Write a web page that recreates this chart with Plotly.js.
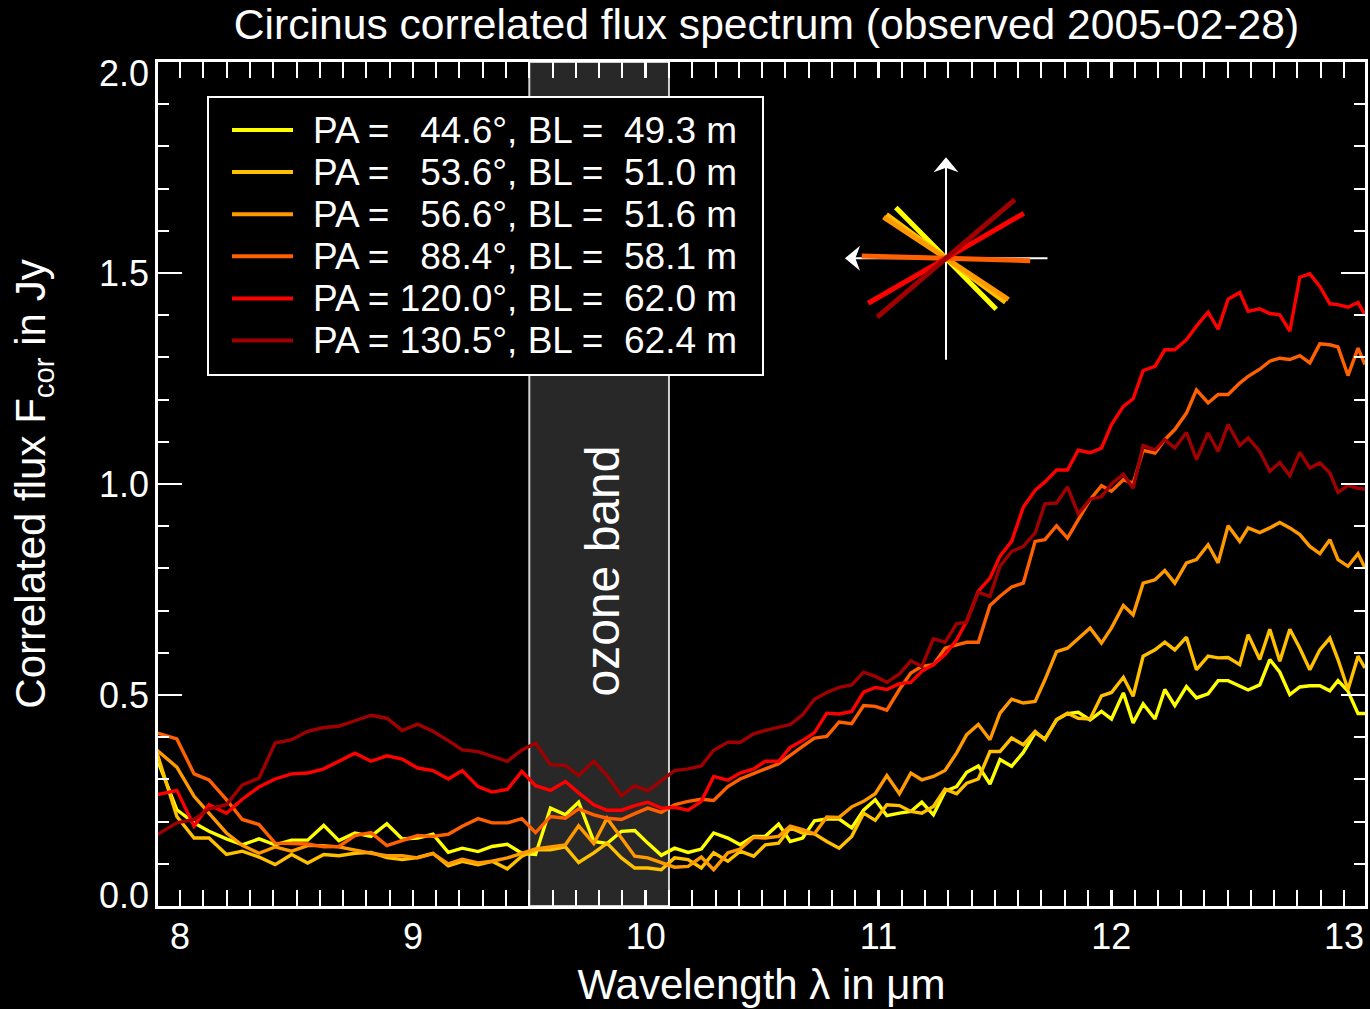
<!DOCTYPE html>
<html>
<head>
<meta charset="utf-8">
<script src="https://cdn.plot.ly/plotly-3.0.1.min.js"></script>
<style>
html, body { margin: 0; padding: 0; background: #000; }
#chart { width: 1370px; height: 1009px; }
</style>
</head>
<body>
<div id="chart"></div>
<script>
// ---- data ----
const wavelength = [7.901, 7.986, 8.060, 8.124, 8.199, 8.267, 8.339, 8.408, 8.479, 8.548,
  8.617, 8.682, 8.751, 8.820, 8.888, 8.954, 9.020, 9.086, 9.152, 9.212,
  9.280, 9.340, 9.406, 9.468, 9.527, 9.591, 9.655, 9.712, 9.777, 9.834,
  9.896, 9.953, 10.009, 10.067, 10.124, 10.182, 10.239, 10.292, 10.353, 10.406,
  10.464, 10.514, 10.571, 10.621, 10.674, 10.725, 10.778, 10.831, 10.885, 10.936,
  10.986, 11.036, 11.090, 11.139, 11.186, 11.236, 11.286, 11.336, 11.379, 11.429,
  11.479, 11.522, 11.572, 11.622, 11.673, 11.715, 11.765, 11.812, 11.858, 11.909,
  11.958, 12.001, 12.052, 12.094, 12.137, 12.188, 12.230, 12.273, 12.323, 12.366,
  12.416, 12.459, 12.502, 12.552, 12.588, 12.638, 12.681, 12.724, 12.767, 12.810,
  12.853, 12.896, 12.939, 12.974, 13.017, 13.060, 13.090];

const fluxPA044 = [0.348, 0.228, 0.197, 0.177, 0.159, 0.145, 0.159, 0.145, 0.156, 0.156,
  0.191, 0.155, 0.173, 0.165, 0.195, 0.159, 0.161, 0.170, 0.127, 0.137,
  0.129, 0.141, 0.146, 0.125, 0.122, 0.232, 0.216,
  0.246, 0.153, 0.148, 0.177, 0.179, 0.149, 0.120, 0.137, 0.127, 0.135,
  0.173, 0.161, 0.145, 0.165, 0.165, 0.194, 0.153, 0.161, 0.202, 0.206,
  0.206, 0.185, 0.227, 0.252, 0.214, 0.220,
  0.224, 0.246, 0.216, 0.272, 0.283, 0.317, 0.332, 0.289, 0.347, 0.331,
  0.364, 0.411, 0.396, 0.441, 0.456, 0.459, 0.441, 0.461, 0.443, 0.505,
  0.434, 0.479, 0.443, 0.513, 0.475, 0.520, 0.493, 0.503, 0.534, 0.534,
  0.520, 0.512, 0.524, 0.584, 0.554, 0.501, 0.519, 0.522, 0.522, 0.510,
  0.534, 0.509, 0.456, 0.456];

const fluxPA054 = [0.362, 0.212, 0.161, 0.161, 0.122, 0.130, 0.116, 0.098, 0.122, 0.102,
  0.122, 0.119, 0.125, 0.127, 0.115, 0.110, 0.115, 0.125, 0.095, 0.106,
  0.098, 0.106, 0.088, 0.118, 0.133, 0.133, 0.140,
  0.103, 0.126, 0.149, 0.114, 0.090, 0.090, 0.086, 0.114, 0.110, 0.090,
  0.126, 0.106, 0.130, 0.118, 0.145, 0.149, 0.185, 0.173, 0.171, 0.153,
  0.137, 0.165, 0.220, 0.203, 0.240, 0.238,
  0.224, 0.220, 0.236, 0.277, 0.266, 0.291, 0.301, 0.366, 0.366, 0.398,
  0.382, 0.414, 0.394, 0.442, 0.457, 0.445, 0.443, 0.498, 0.506, 0.542,
  0.497, 0.592, 0.607, 0.625, 0.607, 0.637, 0.560, 0.592, 0.588, 0.589,
  0.572, 0.643, 0.584, 0.656, 0.580, 0.656, 0.611, 0.560, 0.607, 0.635,
  0.584, 0.513, 0.592, 0.564];

const fluxPA057 = [0.369, 0.329, 0.260, 0.219, 0.173, 0.144, 0.125, 0.140, 0.130, 0.143,
  0.143, 0.140, 0.132, 0.125, 0.119, 0.119, 0.114, 0.124, 0.100, 0.111,
  0.102, 0.106, 0.114, 0.125, 0.135, 0.140, 0.145,
  0.190, 0.148, 0.208, 0.160, 0.118, 0.114, 0.102, 0.092, 0.094, 0.116,
  0.086, 0.126, 0.135, 0.163, 0.161, 0.165, 0.189, 0.181, 0.171, 0.211,
  0.210, 0.235, 0.248, 0.266, 0.309, 0.266,
  0.315, 0.299, 0.307, 0.321, 0.363, 0.406, 0.430, 0.394, 0.457, 0.490,
  0.481, 0.485, 0.536, 0.603, 0.611, 0.635, 0.659, 0.623, 0.659, 0.712,
  0.690, 0.765, 0.773, 0.795, 0.765, 0.813, 0.821, 0.856, 0.813, 0.901,
  0.864, 0.896, 0.885, 0.896, 0.909, 0.896, 0.880, 0.852, 0.835, 0.868,
  0.821, 0.805, 0.835, 0.801];

const fluxPA088 = [0.410, 0.396, 0.313, 0.299, 0.252, 0.205, 0.193, 0.149, 0.148, 0.147,
  0.140, 0.141, 0.167, 0.174, 0.143, 0.155, 0.167, 0.165, 0.170, 0.189,
  0.207, 0.197, 0.197, 0.207, 0.174, 0.212, 0.208,
  0.230, 0.216, 0.208, 0.205, 0.219, 0.232, 0.222, 0.240, 0.248, 0.253,
  0.250, 0.283, 0.301, 0.315, 0.325, 0.337, 0.358, 0.378, 0.398, 0.402,
  0.436, 0.432, 0.475, 0.473, 0.464, 0.513, 0.552,
  0.568, 0.572, 0.611, 0.619, 0.625, 0.625, 0.712, 0.734, 0.756,
  0.765, 0.864, 0.868, 0.901, 0.872, 0.917, 0.963, 0.996, 0.983, 1.010, 1.002,
  1.080, 1.073, 1.105, 1.129, 1.168, 1.223, 1.192, 1.212, 1.212, 1.239,
  1.255, 1.272, 1.291, 1.298, 1.295, 1.304, 1.287, 1.332, 1.330, 1.325,
  1.257, 1.322, 1.283];

const fluxPA120 = [0.264, 0.274, 0.189, 0.240, 0.220, 0.253, 0.282, 0.301, 0.313, 0.315,
  0.325, 0.343, 0.362, 0.343, 0.356, 0.348, 0.327, 0.321, 0.301, 0.321,
  0.283, 0.270, 0.276, 0.319, 0.285, 0.274, 0.295,
  0.268, 0.240, 0.227, 0.227, 0.238, 0.246, 0.232, 0.234, 0.227, 0.248,
  0.307, 0.298, 0.315, 0.325, 0.343, 0.343, 0.376, 0.392, 0.411, 0.457,
  0.455, 0.461, 0.507, 0.518, 0.513, 0.527, 0.530,
  0.556, 0.572, 0.596, 0.631, 0.675, 0.746, 0.777, 0.829, 0.864,
  0.945, 0.985, 1.005, 1.033, 1.033, 1.080, 1.074, 1.085, 1.141, 1.184,
  1.202, 1.269, 1.279, 1.318, 1.318, 1.342, 1.374, 1.407, 1.367, 1.438,
  1.454, 1.409, 1.415, 1.404, 1.401, 1.362, 1.490, 1.498, 1.468, 1.427,
  1.425, 1.419, 1.430, 1.401];

const fluxPA131 = [0.169, 0.197, 0.205, 0.230, 0.240, 0.287, 0.303, 0.386, 0.394, 0.414,
  0.423, 0.426, 0.439, 0.452, 0.445, 0.416, 0.431, 0.414, 0.392, 0.370,
  0.366, 0.356, 0.343, 0.370, 0.386, 0.335, 0.333,
  0.309, 0.343, 0.309, 0.261, 0.285, 0.273, 0.297, 0.321, 0.325, 0.332,
  0.369, 0.388, 0.388, 0.408, 0.416, 0.424, 0.430, 0.453, 0.490, 0.506,
  0.518, 0.524, 0.554, 0.544, 0.530, 0.550, 0.581,
  0.568, 0.633, 0.625, 0.669, 0.672, 0.743, 0.734, 0.805, 0.840,
  0.852, 0.884, 0.953, 0.955, 0.993, 0.929, 0.964, 0.970, 1.000, 1.023, 0.990,
  1.091, 1.081, 1.105, 1.085, 1.122, 1.058, 1.121, 1.077, 1.141, 1.091,
  1.109, 1.077, 1.030, 1.051, 1.020, 1.075, 1.038, 1.050, 1.026, 0.980,
  0.996, 0.990, 0.988];

const positionAngles = [44.6, 53.6, 56.6, 88.4, 120.0, 130.5];   // degrees
const baselineLengths = [49.3, 51.0, 51.6, 58.1, 62.0, 62.4];   // metres
const lineColors = ['#ffff00', '#ffc000', '#ff9900', '#ff6000', '#ff0000', '#a00000'];
const ozoneBand = [9.5, 10.1];
const yTickValues = [0.0, 0.5, 1.0, 1.5, 2.0];
const yTickText = ['0.0', '0.5', '1.0', '1.5', '2.0'];

// ---- build figure ----
const FONT = '"Liberation Sans", Arial, Helvetica, sans-serif';
const WHITE = '#ffffff';
const seriesFlux = [fluxPA044, fluxPA054, fluxPA057, fluxPA088, fluxPA120, fluxPA131];

const traces = [];
seriesFlux.forEach((flux, i) => {
  traces.push({
    type: 'scatter', mode: 'lines', x: wavelength, y: flux,
    line: { color: lineColors[i], width: 3.4 },
    xaxis: 'x', yaxis: 'y', showlegend: false, hoverinfo: 'skip'
  });
});
// empty trace so that the label-only overlay axis (y2) is created
traces.push({ type: 'scatter', mode: 'lines', x: [], y: [], xaxis: 'x', yaxis: 'y2',
  showlegend: false, hoverinfo: 'skip' });

// inset: projected baselines (East to the left, North up)
positionAngles.forEach((pa, i) => {
  const r = pa * Math.PI / 180;
  const east = baselineLengths[i] * Math.sin(r);
  const north = baselineLengths[i] * Math.cos(r);
  traces.push({
    type: 'scatter', mode: 'lines', x: [-east, east], y: [-north, north],
    line: { color: lineColors[i], width: 5 },
    xaxis: 'x3', yaxis: 'y3', showlegend: false, hoverinfo: 'skip'
  });
});

// ---- geometry helpers (pixels of the 1370x1009 page) ----
const PL = 158, PR = 1365, PT = 62, PB = 906;
const px2paperX = p => (p - PL) / (PR - PL);
const px2paperY = p => (PB - p) / (PB - PT);

const shapes = [];
const annotations = [];

// ozone band
shapes.push({
  type: 'rect', xref: 'x', yref: 'y', x0: ozoneBand[0], x1: ozoneBand[1], y0: 0, y1: 2,
  fillcolor: '#282828', line: { color: '#cfcfcf', width: 2 }, layer: 'below'
});
annotations.push({
  xref: 'x', yref: 'y', x: (ozoneBand[0] + ozoneBand[1]) / 2, y: 0.793, xshift: 3,
  text: 'ozone band', textangle: -90, showarrow: false,
  font: { family: FONT, size: 48, color: WHITE }
});

// legend (box, sample lines, labels built from PA / BL arrays)
shapes.push({
  type: 'rect', xref: 'paper', yref: 'paper',
  x0: px2paperX(208), x1: px2paperX(763), y0: px2paperY(375), y1: px2paperY(97),
  fillcolor: '#000000', line: { color: WHITE, width: 2 }, layer: 'above'
});
const NBSP = '\u00A0';
positionAngles.forEach((pa, i) => {
  const yPx = 130 + i * 42.1;
  shapes.push({
    type: 'line', xref: 'paper', yref: 'paper',
    x0: px2paperX(232), x1: px2paperX(293), y0: px2paperY(yPx), y1: px2paperY(yPx),
    line: { color: lineColors[i], width: 4 }, layer: 'above'
  });
  const paStr = pa.toFixed(1);
  const blStr = baselineLengths[i].toFixed(1);
  const pad = NBSP.repeat(1 + 2 * (5 - paStr.length));
  annotations.push({
    xref: 'paper', yref: 'paper', x: px2paperX(311), y: px2paperY(yPx),
    xanchor: 'left', yanchor: 'middle', showarrow: false,
    text: 'PA =' + pad + paStr + '°, BL =' + NBSP + NBSP + blStr + ' m',
    font: { family: FONT, size: 37, color: WHITE }
  });
});

// inset compass (North up, East left), in metres of the inset axes
const AX_LEN = 70.0;
shapes.push({ type: 'line', xref: 'x3', yref: 'y3', x0: 0, x1: 0, y0: -AX_LEN, y1: AX_LEN - 2,
  line: { color: WHITE, width: 2 }, layer: 'below' });
shapes.push({ type: 'line', xref: 'x3', yref: 'y3', x0: -AX_LEN, x1: AX_LEN - 2, y0: 0, y1: 0,
  line: { color: WHITE, width: 2 }, layer: 'below' });
const tip = AX_LEN - 0.3, wing = AX_LEN - 10.7, notch = AX_LEN - 7.5, half = 8.6;
shapes.push({ type: 'path', xref: 'x3', yref: 'y3',
  path: `M 0,${tip} L ${-half},${wing} L 0,${notch} L ${half},${wing} Z`,
  fillcolor: WHITE, line: { width: 0 }, layer: 'below' });
shapes.push({ type: 'path', xref: 'x3', yref: 'y3',
  path: `M ${tip},0 L ${wing},${half} L ${notch},0 L ${wing},${-half} Z`,
  fillcolor: WHITE, line: { width: 0 }, layer: 'below' });

// inset domain: centre at (946, 258) px, 1.45 px per metre
const INSET_R = 74.5, SCALE = 1.45, CX = 946, CY = 258.3;
const halfPx = INSET_R * SCALE;

const tickFont = { family: FONT, size: 36, color: WHITE };

const layout = {
  width: 1370, height: 1009,
  paper_bgcolor: '#000000', plot_bgcolor: '#000000',
  margin: { l: PL, r: 1370 - PR, t: PT, b: 1009 - PB, pad: 0 },
  font: { family: FONT, color: WHITE },
  showlegend: false,
  title: {
    text: 'Circinus correlated flux spectrum (observed 2005-02-28)',
    font: { family: FONT, size: 42.6, color: WHITE },
    x: 0.5595, xanchor: 'center', xref: 'container',
    y: 1 - 24 / 1009, yanchor: 'middle', yref: 'container'
  },
  xaxis: {
    range: [7.905, 13.09], domain: [0, 1], anchor: 'y',
    showgrid: false, zeroline: false,
    showline: true, linecolor: WHITE, linewidth: 3, mirror: 'allticks',
    ticks: 'inside', ticklen: 16, tickwidth: 2.5, tickcolor: WHITE,
    tick0: 8, dtick: 1,
    minor: { ticks: 'inside', dtick: 0.1, ticklen: 8, tickwidth: 2, tickcolor: WHITE, showgrid: false },
    tickfont: tickFont, ticklabelstandoff: -3,
    title: { text: 'Wavelength λ in μm', font: { family: FONT, size: 42, color: WHITE }, standoff: 14 }
  },
  yaxis: {
    range: [0, 2], domain: [0, 1], anchor: 'x',
    showgrid: false, zeroline: false,
    showline: true, linecolor: WHITE, linewidth: 3, mirror: 'allticks',
    ticks: 'inside', ticklen: 24, tickwidth: 2.5, tickcolor: WHITE,
    tick0: 0, dtick: 0.5,
    minor: { ticks: 'inside', dtick: 0.1, ticklen: 11, tickwidth: 2, tickcolor: WHITE, showgrid: false },
    showticklabels: false
  },
  yaxis2: {
    overlaying: 'y', anchor: 'x', side: 'left', range: [0, 2],
    showgrid: false, zeroline: false, showline: false, ticks: '',
    tickmode: 'array',
    // end labels sit slightly inside the frame as in the reference
    tickvals: yTickValues.map(v => v === 0 ? 0.024 : (v === 2 ? 1.972 : v)),
    ticktext: yTickText,
    tickfont: tickFont, ticklabelstandoff: 8,
    title: { text: 'Correlated flux F<sub>cor</sub> in Jy', font: { family: FONT, size: 42, color: WHITE }, standoff: 40 }
  },
  xaxis3: {
    domain: [px2paperX(CX - halfPx), px2paperX(CX + halfPx)], anchor: 'y3',
    range: [INSET_R, -INSET_R], visible: false, fixedrange: true
  },
  yaxis3: {
    domain: [px2paperY(CY + halfPx), px2paperY(CY - halfPx)], anchor: 'x3',
    range: [-INSET_R, INSET_R], visible: false, fixedrange: true
  },
  shapes: shapes,
  annotations: annotations
};

Plotly.newPlot('chart', traces, layout, { displayModeBar: false, staticPlot: true });
</script>
</body>
</html>
